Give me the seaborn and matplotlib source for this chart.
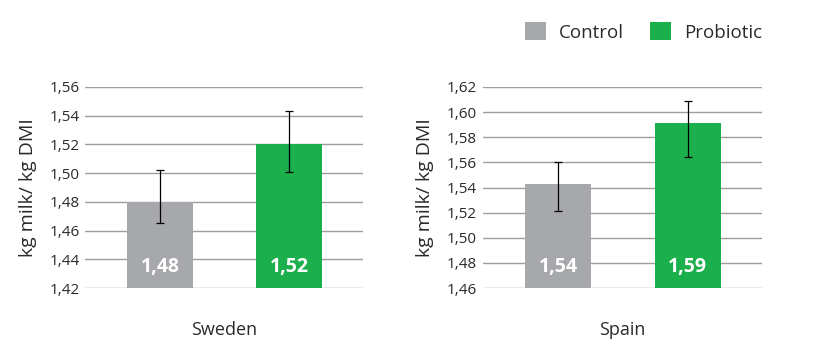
import numpy as np
import pandas as pd
import seaborn as sns
import matplotlib.pyplot as plt
from matplotlib.patches import Patch
from matplotlib.transforms import blended_transform_factory

groups = ["Control", "Probiotic"]
countries = ["Sweden", "Spain"]

# bar heights and error bar ends
sweden_values = [1.480, 1.520]
sweden_err_low = [1.465, 1.501]
sweden_err_high = [1.502, 1.543]
spain_values = [1.543, 1.591]
spain_err_low = [1.521, 1.564]
spain_err_high = [1.560, 1.609]

value_labels = {"Sweden": ["1,48", "1,52"], "Spain": ["1,54", "1,59"]}
sweden_ticks = [1.42, 1.44, 1.46, 1.48, 1.50, 1.52, 1.54, 1.56]
spain_ticks = [1.46, 1.48, 1.50, 1.52, 1.54, 1.56, 1.58, 1.60, 1.62]

colors = {"Control": "#a7a8ab", "Probiotic": "#1bb04b"}
text_color = "#2a2a2a"

sns.set_theme(style="white")
plt.rcParams["font.family"] = ["Open Sans", "DejaVu Sans"]

fig = plt.figure(figsize=(8.18, 3.58), dpi=100)
ax_sw = fig.add_axes([0.1039, 0.1955, 0.3399, 0.5615])
ax_sp = fig.add_axes([0.5901, 0.1955, 0.3411, 0.5615])

panels = [
    (ax_sw, "Sweden", sweden_values, sweden_err_low, sweden_err_high, sweden_ticks),
    (ax_sp, "Spain", spain_values, spain_err_low, spain_err_high, spain_ticks),
]

for ax, country, vals, lo, hi, ticks in panels:
    df = pd.DataFrame({"group": groups, "value": vals})
    sns.barplot(data=df, x="group", y="value", hue="group", palette=colors,
                width=0.51, legend=False, ax=ax, zorder=2, saturation=1,
                linewidth=0, edgecolor="none")
    vals = np.array(vals)
    yerr = [vals - np.array(lo), np.array(hi) - vals]
    ax.errorbar(range(len(groups)), vals, yerr=yerr, fmt="none", ecolor="black",
                elinewidth=0.9, capsize=3.2, capthick=0.9, zorder=3)

    ax.set_ylim(ticks[0], ticks[-1])
    ax.set_xlim(-0.58, 1.57)
    ax.set_yticks(ticks)
    ax.set_yticklabels([f"{t:.2f}".replace(".", ",") for t in ticks],
                       fontsize=11, color=text_color)
    ax.yaxis.grid(True, color="#9d9d9d", linewidth=1.0, zorder=0)
    ax.set_axisbelow(True)
    ax.tick_params(axis="both", length=0, pad=4)
    ax.set_xticks([])
    ax.set_xlabel(country, fontsize=13, color=text_color, labelpad=24)
    ax.set_ylabel("kg milk/ kg DMI", fontsize=14, color=text_color, labelpad=9)
    for s in ax.spines.values():
        s.set_visible(False)

    trans = blended_transform_factory(ax.transData, ax.transAxes)
    for i, lab in enumerate(value_labels[country]):
        ax.text(i, 0.105, lab, transform=trans, ha="center", va="center",
                fontsize=14, fontweight="bold", color="white", zorder=4)

handles = [Patch(facecolor=colors[g], edgecolor="none", label=g) for g in groups]
fig.legend(handles=handles, loc="upper right", bbox_to_anchor=(0.952, 0.985),
           ncol=2, frameon=False, fontsize=13.5, handlelength=1.1, handleheight=1.1,
           handletextpad=0.7, columnspacing=1.4, labelcolor=text_color)

fig.savefig("out.png", dpi=100)
